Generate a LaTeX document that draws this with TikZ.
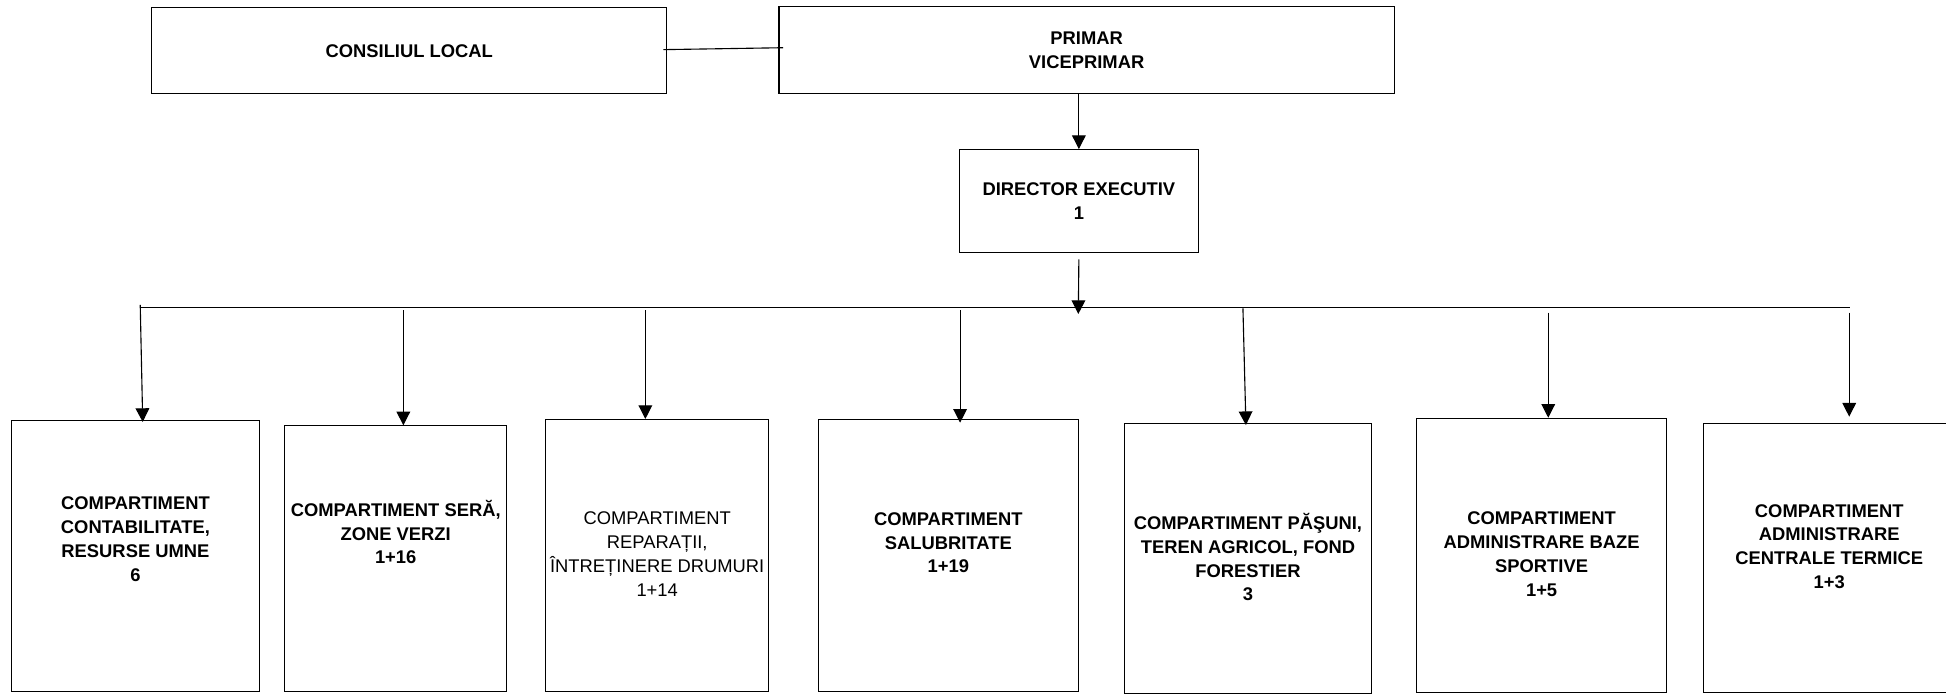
\documentclass[tikz,border=0pt]{standalone}
\usepackage{fontspec}
\setmainfont{Liberation Sans}
\usetikzlibrary{arrows.meta}
\usetikzlibrary{calc}
\tikzset{
  box/.style={draw, line width=0.9pt, inner sep=0pt, anchor=north west},
  txt/.style={align=center, font=\fontsize{14.8}{19.2}\selectfont\bfseries},
  pil/.style={line width=0.9pt, -{Triangle[length=11pt,width=11pt]}}
}

\begin{document}
\begin{tikzpicture}[x=1pt,y=-1pt]
\useasboundingbox (0,0) rectangle (1568,558.4);
% conducere
\node[box, txt, minimum width=415, minimum height=69.3] (consiliu) at (121.8,5.9) {CONSILIUL LOCAL};
\node[box, txt, minimum width=495.8, minimum height=70.4] (primar) at (627.2,4.8) {PRIMAR\\VICEPRIMAR};
\node[box, txt, minimum width=192.7, minimum height=82.7] (director) at (772.5,120.1) {DIRECTOR EXECUTIV\\1};
\draw[line width=0.9pt] ([xshift=-3.2pt,yshift=1pt]consiliu.east) -- ([xshift=3.8pt,yshift=2pt]primar.west);
\draw[pil] (director.north |- primar.south) -- (director.north);
\coordinate (nod) at (868.85,253);
\draw[pil] ([yshift=-5.2pt]director.south) -- (nod);
% compartimente
\node[box, minimum width=199.4, minimum height=218.1] (c1) at (9,338.4) {};
\node[box, minimum width=178.8, minimum height=213.8] (c2) at (229,342.7) {};
\node[box, minimum width=180, minimum height=218.9] (c3) at (439.1,337.6) {};
\node[box, minimum width=209.3, minimum height=219.1] (c4) at (659,337.4) {};
\node[box, minimum width=198.4, minimum height=217] (c5) at (905.9,341) {};
\node[box, minimum width=201, minimum height=220.7] (c6) at (1141.2,336.6) {};
\node[box, minimum width=203, minimum height=216.5] (c7) at (1372,341) {};
\node[txt] (t1) at ([yshift=13.3pt]c1.center) {COMPARTIMENT\\CONTABILITATE,\\RESURSE UMNE\\6};
\node[txt] (t2) at ([yshift=21.3pt]c2.center) {COMPARTIMENT SERĂ,\\ZONE VERZI\\1+16};
\node[txt, font=\fontsize{14.8}{19.2}\selectfont] (t3) at ([yshift=1pt]c3.center) {COMPARTIMENT\\REPARAȚII,\\ÎNTREȚINERE DRUMURI\\1+14};
\node[txt] (t4) at ([yshift=10pt]c4.center) {COMPARTIMENT\\SALUBRITATE\\1+19};
\node[txt] (t5) at ([yshift=1pt]c5.center) {COMPARTIMENT PĂŞUNI,\\TEREN AGRICOL, FOND\\FORESTIER\\3};
\node[txt] (t6) at ([yshift=0.7pt]c6.center) {COMPARTIMENT\\ADMINISTRARE BAZE\\SPORTIVE\\1+5};
\node[txt] (t7) at ([yshift=9.3pt]c7.center) {COMPARTIMENT\\ADMINISTRARE\\CENTRALE TERMICE\\1+3};
% linia de distributie
\coordinate (busL) at (113,247.6);
\coordinate (busR) at (1491,247.6);
\draw[line width=0.9pt] (busL) -- (busR);
\coordinate (r1) at (113,245.7);
\coordinate (r2) at (325,249.8);
\coordinate (r3) at (520,249.8);
\coordinate (r4) at (773.6,250);
\coordinate (r5) at (1001.5,248.5);
\coordinate (r6) at (1247.5,252);
\coordinate (r7) at (1490,252);
\draw[pil] (r1) -- ($(r1 |- c1.north)+(2,1.6)$);
\draw[pil] (r2) -- (r2 |- c2.north);
\draw[pil] (r3) -- (r3 |- c3.north);
\draw[pil] (r4) -- ($(r4 |- c4.north)+(0,3.2)$);
\draw[pil] (r5) -- ($(r5 |- c5.north)+(2.4,1.5)$);
\draw[pil] (r6) -- (r6 |- c6.north);
\draw[pil] (r7) -- ($(r7 |- c7.north)+(0,-5.3)$);
\end{tikzpicture}
\end{document}
